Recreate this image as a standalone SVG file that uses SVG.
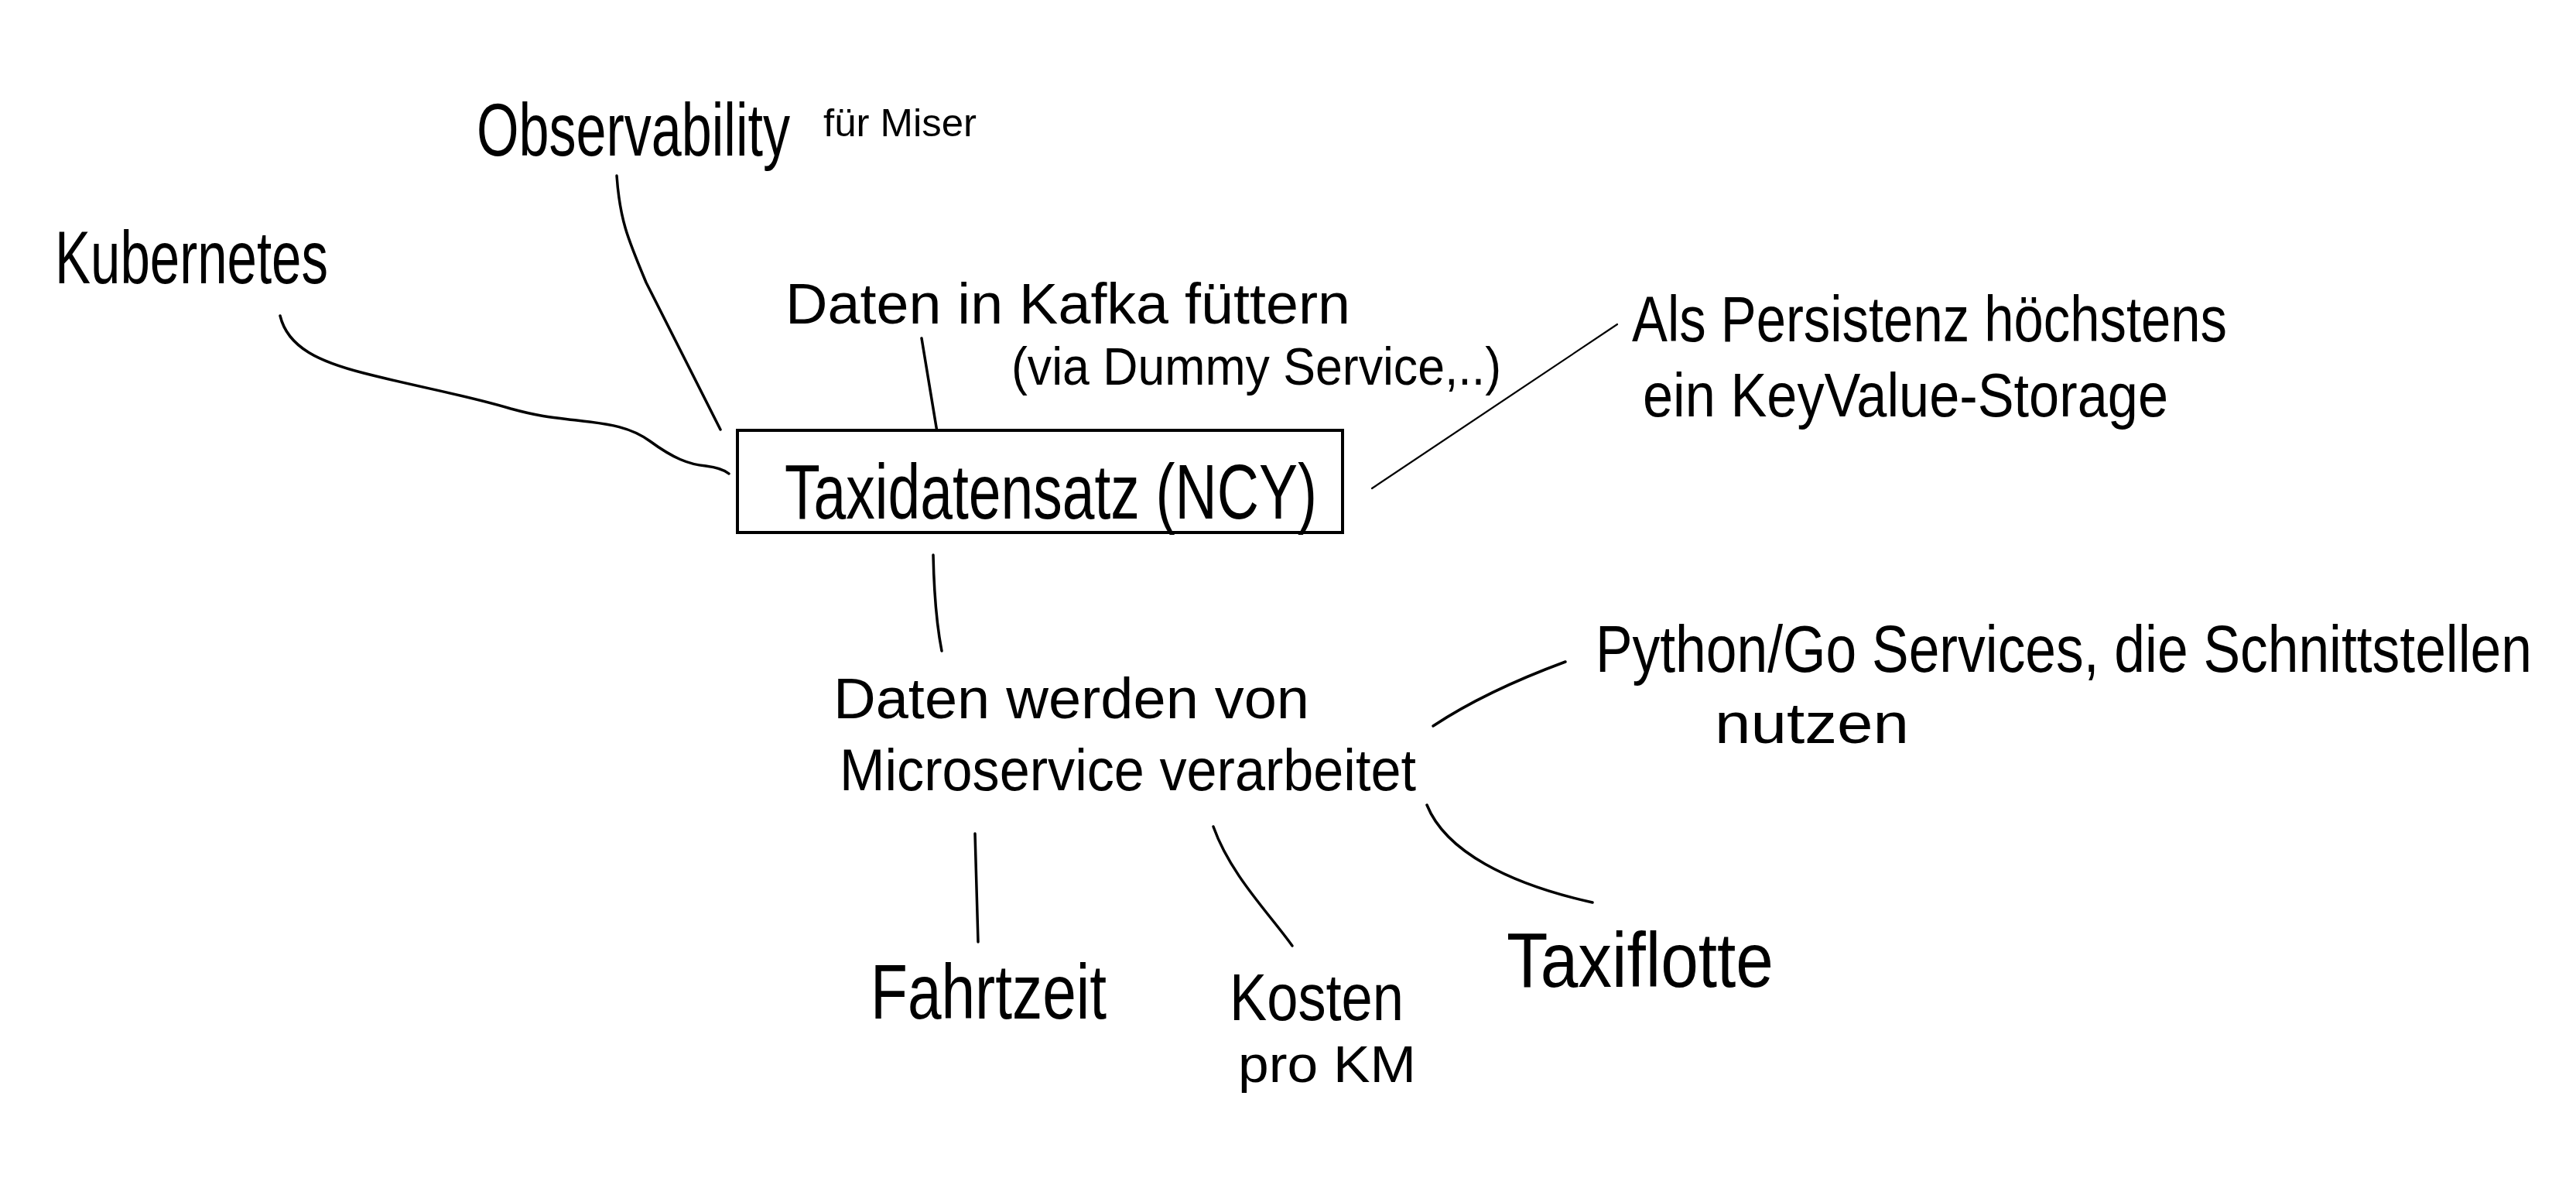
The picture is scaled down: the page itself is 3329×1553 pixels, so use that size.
<svg xmlns="http://www.w3.org/2000/svg" width="3329" height="1553" viewBox="0 0 3329 1553">
<style>
  .t { font-family: "Liberation Sans", "DejaVu Sans", sans-serif; fill: #000; font-weight: normal; }
  .c { fill: none; stroke: #000; stroke-width: 3.5; stroke-linecap: round; stroke-linejoin: round; }
  .thin { stroke-width: 2.2; }
  .box { fill: #fff; stroke: #000; stroke-width: 4; }
</style>
<rect x="0" y="0" width="3329" height="1553" fill="#fff"/>
<g id="connectors">
  <path class="c" d="M362,408 C372,450 415,468 470,482 C540,500 600,510 660,528 C700,539 720,540 745,543 C790,548 815,552 840,570 C870,592 890,600 912,602 C928,604 936,607 942,612"/>
  <path class="c" d="M797,227 C801,285 812,310 835,365 L931,555"/>
  <path class="c" d="M1191,437 L1212,564"/>
  <path class="c thin" d="M1773,631 L2090,419"/>
  <path class="c" d="M1206,717 C1207,765 1210,805 1217,841"/>
  <path class="c" d="M1852,938 Q1920,893 2023,855"/>
  <path class="c" d="M1844,1040 C1868,1100 1950,1142 2058,1166"/>
  <path class="c" d="M1568,1068 C1590,1130 1640,1180 1670,1222"/>
  <path class="c" d="M1260,1077 L1264,1217"/>
</g>
<g id="node-taxidatensatz">
  <rect class="box" x="953" y="556" width="782" height="132"/>
  <text class="t" x="1014" y="670" font-size="100" textLength="688" lengthAdjust="spacingAndGlyphs">Taxidatensatz (NCY)</text>
</g>
<g id="node-observability">
  <text class="t" transform="translate(616,201) scale(0.73,1)" x="0" y="0" font-size="96">Observability</text>
  <text class="t" x="1064" y="176" font-size="50" textLength="198" lengthAdjust="spacingAndGlyphs">für Miser</text>
</g>
<g id="node-kubernetes">
  <text class="t" x="71" y="366" font-size="96" textLength="353" lengthAdjust="spacingAndGlyphs">Kubernetes</text>
</g>
<g id="node-kafka">
  <text class="t" x="1015" y="418" font-size="74" textLength="730" lengthAdjust="spacingAndGlyphs">Daten in Kafka füttern</text>
  <text class="t" x="1307" y="497" font-size="68" textLength="633" lengthAdjust="spacingAndGlyphs">(via Dummy Service,..)</text>
</g>
<g id="node-persistenz">
  <text class="t" x="2109" y="441" font-size="84" textLength="769" lengthAdjust="spacingAndGlyphs">Als Persistenz höchstens</text>
  <text class="t" x="2123" y="538" font-size="80" textLength="679" lengthAdjust="spacingAndGlyphs">ein KeyValue-Storage</text>
</g>
<g id="node-microservice">
  <text class="t" x="1077" y="928" font-size="74" textLength="615" lengthAdjust="spacingAndGlyphs">Daten werden von</text>
  <text class="t" x="1085" y="1021" font-size="76" textLength="745" lengthAdjust="spacingAndGlyphs">Microservice  verarbeitet</text>
</g>
<g id="node-python">
  <text class="t" transform="translate(2062,868) scale(0.83,1)" x="0" y="0" font-size="86">Python/Go Services, die Schnittstellen</text>
  <text class="t" x="2216" y="960" font-size="74" textLength="251" lengthAdjust="spacingAndGlyphs">nutzen</text>
</g>
<g id="node-fahrtzeit">
  <text class="t" x="1125" y="1316" font-size="100" textLength="305" lengthAdjust="spacingAndGlyphs">Fahrtzeit</text>
</g>
<g id="node-kosten">
  <text class="t" x="1589" y="1318" font-size="86" textLength="225" lengthAdjust="spacingAndGlyphs">Kosten</text>
  <text class="t" x="1600" y="1398" font-size="66" textLength="230" lengthAdjust="spacingAndGlyphs">pro KM</text>
</g>
<g id="node-taxiflotte">
  <text class="t" x="1947" y="1275" font-size="100" textLength="345" lengthAdjust="spacingAndGlyphs">Taxiflotte</text>
</g>
</svg>
